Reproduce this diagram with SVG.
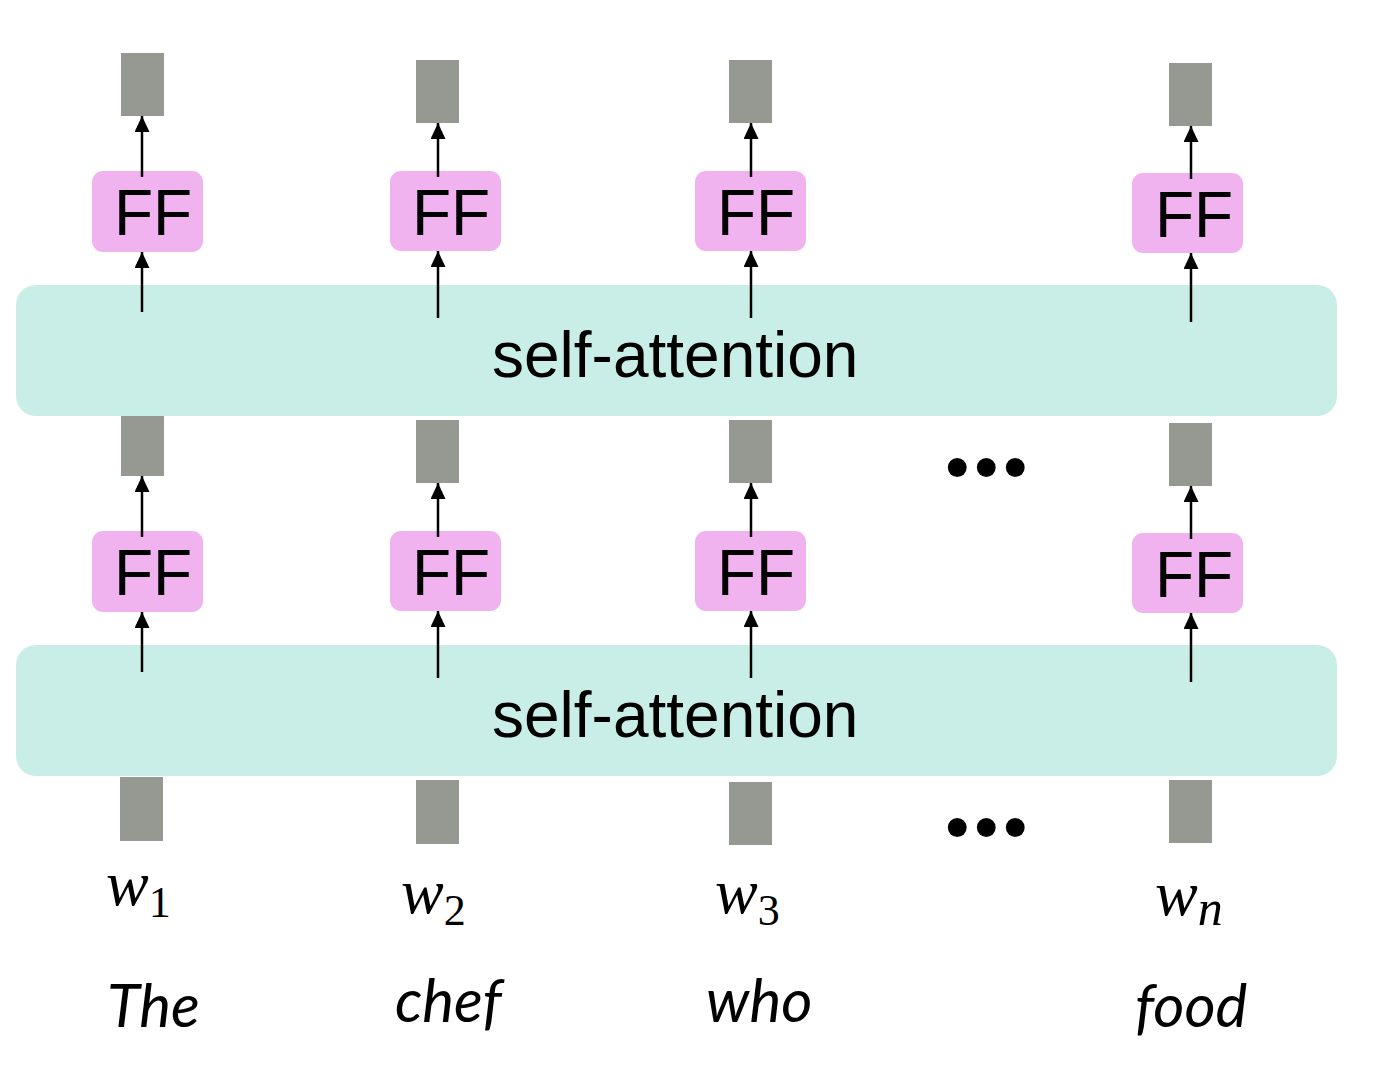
<svg xmlns="http://www.w3.org/2000/svg" width="1378" height="1074" viewBox="0 0 1378 1074">
<style>
.band{fill:#C9EEE7}
.vec{fill:#969991}
.ff{fill:#F1B2F0}
.fft{font-family:"Liberation Sans",Arial,sans-serif;font-size:64px;fill:#000;text-anchor:middle}
.sat{font-family:"Liberation Sans",Arial,sans-serif;font-size:64px;fill:#000}
.arr{stroke:#000;stroke-width:2.5;fill:none;marker-end:url(#ah)}
.wv{font-family:"Liberation Serif","Times New Roman",serif;font-style:italic;font-size:64px;fill:#000}
.sub{font-family:"Liberation Serif","Times New Roman",serif;font-style:normal;font-size:44px}
.subi{font-family:"Liberation Serif","Times New Roman",serif;font-style:italic;font-size:50px}
.word{font-family:Lato,"Open Sans",sans-serif;font-style:italic;font-size:60px;fill:#000}
.dots{font-family:"Liberation Serif","Times New Roman",serif;font-weight:bold;font-style:italic;font-size:116px;fill:#000}
</style>
<defs>
<marker id="ah" markerUnits="userSpaceOnUse" markerWidth="17" markerHeight="16" refX="16" refY="7.5" orient="auto">
<path d="M0,0 L16,7.5 L0,15 z" fill="#000"/>
</marker>
</defs>
<rect width="1378" height="1074" fill="#fff"/>
<g id="attn1"><rect class="band" x="16" y="285" width="1321" height="131" rx="20"/><text class="sat" x="492" y="377">self-attention</text></g>
<g id="attn2"><rect class="band" x="16" y="645" width="1321" height="131" rx="20"/><text class="sat" x="492" y="737">self-attention</text></g>

<g id="col1">
<rect id="out1" class="vec" x="121" y="53" width="43" height="63"/>
<g id="ff1a"><rect class="ff" x="92" y="171" width="111" height="81" rx="11"/><text class="fft" x="153" y="235">FF</text></g>
<rect id="mid1" class="vec" x="121" y="416" width="43" height="60"/>
<g id="ff1b"><rect class="ff" x="92" y="531" width="111" height="81" rx="11"/><text class="fft" x="153" y="595">FF</text></g>
<rect id="in1" class="vec" x="120" y="777" width="43" height="64"/>
</g>
<g id="col2">
<rect id="out2" class="vec" x="416" y="60" width="43" height="63"/>
<g id="ff2a"><rect class="ff" x="390" y="171" width="111" height="80" rx="11"/><text class="fft" x="451" y="235">FF</text></g>
<rect id="mid2" class="vec" x="416" y="420" width="43" height="63"/>
<g id="ff2b"><rect class="ff" x="390" y="531" width="111" height="80" rx="11"/><text class="fft" x="451" y="595">FF</text></g>
<rect id="in2" class="vec" x="416" y="780" width="43" height="64"/>
</g>
<g id="col3">
<rect id="out3" class="vec" x="729" y="60" width="43" height="63"/>
<g id="ff3a"><rect class="ff" x="695" y="171" width="111" height="80" rx="11"/><text class="fft" x="756" y="235">FF</text></g>
<rect id="mid3" class="vec" x="729" y="420" width="43" height="63"/>
<g id="ff3b"><rect class="ff" x="695" y="531" width="111" height="80" rx="11"/><text class="fft" x="756" y="595">FF</text></g>
<rect id="in3" class="vec" x="729" y="782" width="43" height="63"/>
</g>
<g id="col4">
<rect id="out4" class="vec" x="1169" y="63" width="43" height="63"/>
<g id="ff4a"><rect class="ff" x="1132" y="173" width="111" height="80" rx="11"/><text class="fft" x="1194" y="237">FF</text></g>
<rect id="mid4" class="vec" x="1169" y="423" width="43" height="63"/>
<g id="ff4b"><rect class="ff" x="1132" y="533" width="111" height="80" rx="11"/><text class="fft" x="1194" y="597">FF</text></g>
<rect id="in4" class="vec" x="1169" y="780" width="43" height="63"/>
</g>

<g id="connectors">
<line class="arr" x1="142" y1="177" x2="142" y2="116"/>
<line class="arr" x1="142" y1="312" x2="142" y2="252"/>
<line class="arr" x1="142" y1="537" x2="142" y2="476"/>
<line class="arr" x1="142" y1="672" x2="142" y2="612"/>
<line class="arr" x1="438" y1="177" x2="438" y2="123"/>
<line class="arr" x1="438" y1="318" x2="438" y2="251"/>
<line class="arr" x1="438" y1="537" x2="438" y2="483"/>
<line class="arr" x1="438" y1="678" x2="438" y2="611"/>
<line class="arr" x1="751" y1="177" x2="751" y2="123"/>
<line class="arr" x1="751" y1="318" x2="751" y2="251"/>
<line class="arr" x1="751" y1="537" x2="751" y2="483"/>
<line class="arr" x1="751" y1="678" x2="751" y2="611"/>
<line class="arr" x1="1191" y1="179" x2="1191" y2="126"/>
<line class="arr" x1="1191" y1="322" x2="1191" y2="253"/>
<line class="arr" x1="1191" y1="539" x2="1191" y2="486"/>
<line class="arr" x1="1191" y1="682" x2="1191" y2="613"/>
</g>

<g id="ellipses">
<text class="dots" x="947" y="475">...</text>
<text class="dots" x="947" y="835">...</text>
</g>

<g id="labels">
<text class="wv" x="106" y="905">w<tspan class="sub" dy="12">1</tspan></text>
<text class="wv" x="401" y="913">w<tspan class="sub" dy="12">2</tspan></text>
<text class="wv" x="715" y="913">w<tspan class="sub" dy="12">3</tspan></text>
<text class="wv" x="1155" y="915">w<tspan class="subi" dy="10">n</tspan></text>
<text class="word" x="107" y="1027">The</text>
<text class="word" x="395" y="1022">chef</text>
<text class="word" x="706" y="1022">who</text>
<text class="word" x="1135" y="1027">food</text>
</g>
</svg>
